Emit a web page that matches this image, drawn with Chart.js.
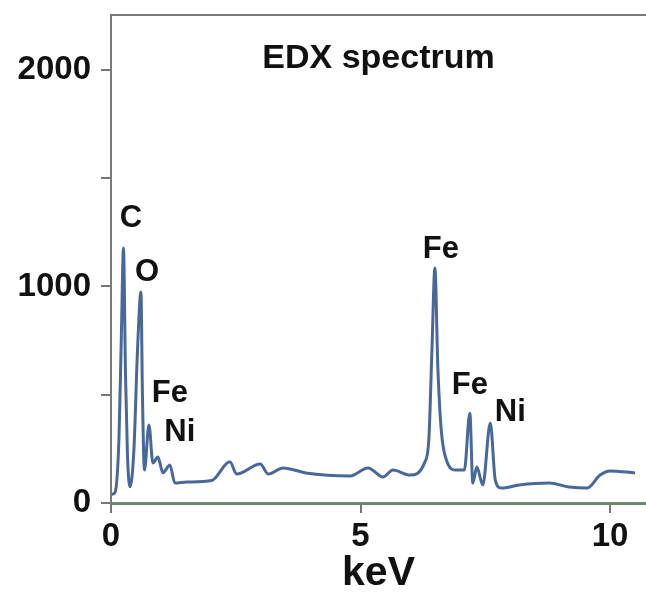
<!DOCTYPE html>
<html>
<head>
<meta charset="utf-8">
<script src="https://cdn.jsdelivr.net/npm/chart.js@4/dist/chart.umd.min.js"></script>
<style>
  html, body { margin: 0; padding: 0; background: #fff; }
  canvas { display: block; }
</style>
</head>
<body>
<canvas id="edx" width="646" height="598"></canvas>
<script>
// spectrum (keV / counts)
const energy = [0.02, 0.08, 0.16, 0.21, 0.25, 0.29, 0.33, 0.38, 0.46, 0.53, 0.60, 0.63, 0.67,
    0.76, 0.84, 0.94, 1.04, 1.18, 1.28, 1.52, 2.02, 2.38, 2.52, 2.99, 3.15, 3.45, 3.9,
    4.79, 5.15, 5.45, 5.65, 5.99, 6.29, 6.37, 6.43, 6.49, 6.55, 6.62, 6.72, 6.92, 7.08,
    7.19, 7.25, 7.33, 7.45, 7.60, 7.70, 7.82, 8.18, 8.78, 9.18, 9.54, 9.80, 10.0, 10.5];
const counts = [40, 48, 300, 800, 1178, 600, 220, 75, 250, 700, 975, 500, 152,
    360, 185, 212, 140, 175, 92, 97, 104, 190, 134, 180, 134, 162, 139,
    125, 162, 120, 152, 129, 190, 300, 700, 1085, 620, 330, 199, 152, 152,
    415, 92, 166, 83, 370, 106, 69, 83, 92, 74, 69, 129, 148, 139];

const xTicks = [0, 5, 10];
const yTicks = [0, 500, 1000, 1500, 2000];
const yLabeled = [0, 1000, 2000];

// peak labels
const peakText = ['C', 'O', 'Fe', 'Ni', 'Fe', 'Fe', 'Ni'];
const peakX = [0.40, 0.72, 1.18, 1.38, 6.61, 7.19, 8.0];
const peakY = [1316, 1067, 508, 328, 1169, 545, 420];

const FONT = '"Liberation Sans", Arial, sans-serif';

const labels = {
    id: 'labels',
    afterDraw(chart) {
        const { ctx, chartArea: a, scales: { x, y } } = chart;
        ctx.save();
        // top frame line
        ctx.strokeStyle = '#7a7a7a';
        ctx.lineWidth = 2;
        ctx.beginPath();
        ctx.moveTo(a.left, a.top);
        ctx.lineTo(chart.width, a.top);
        ctx.stroke();

        ctx.fillStyle = '#111';
        ctx.textAlign = 'center';
        ctx.textBaseline = 'middle';
        ctx.font = 'bold 34px ' + FONT;
        ctx.fillText('EDX spectrum', (a.left + a.right) / 2, a.top + 44);

        ctx.font = 'bold 31px ' + FONT;
        peakText.forEach((t, i) => {
            ctx.fillText(t, x.getPixelForValue(peakX[i]), y.getPixelForValue(peakY[i]));
        });
        ctx.restore();
    }
};

new Chart(document.getElementById('edx'), {
    type: 'line',
    data: {
        datasets: [{
            data: energy.map((e, i) => ({ x: e, y: counts[i] })),
            borderColor: '#48689a',
            borderWidth: 3,
            pointRadius: 0,
            cubicInterpolationMode: 'monotone'
        }]
    },
    options: {
        responsive: false,
        animation: false,
        devicePixelRatio: 1,
        layout: { padding: { top: 15, right: 0, left: 0, bottom: 0 } },
        plugins: { legend: { display: false }, tooltip: { enabled: false } },
        scales: {
            x: {
                type: 'linear', min: 0, max: 10.72,
                afterBuildTicks: s => { s.ticks = xTicks.map(v => ({ value: v })); },
                afterFit: s => { s.height = 95; s.paddingLeft = 0; s.paddingRight = 0; },
                ticks: { color: '#111', padding: 4,
                    font: { family: FONT, size: 33, weight: 'bold' } },
                grid: { drawOnChartArea: false, tickLength: 10, color: '#777', lineWidth: 2 },
                border: { color: '#6b8a6b', width: 3 },
                title: { display: true, text: 'keV', color: '#111', padding: { top: 5, bottom: 0 },
                    font: { family: FONT, size: 41, weight: 'bold' } }
            },
            y: {
                min: 0, max: 2254,
                afterBuildTicks: s => { s.ticks = yTicks.map(v => ({ value: v })); },
                afterFit: s => { s.width = 111; s.paddingTop = 0; s.paddingBottom = 0; },
                ticks: { color: '#111', padding: 10,
                    font: { family: FONT, size: 33, weight: 'bold' },
                    callback: v => yLabeled.includes(v) ? v : '' },
                grid: { drawOnChartArea: false, tickLength: 10, color: '#777', lineWidth: 2 },
                border: { color: '#7a7a7a', width: 2 }
            }
        }
    },
    plugins: [labels]
});
</script>
</body>
</html>
